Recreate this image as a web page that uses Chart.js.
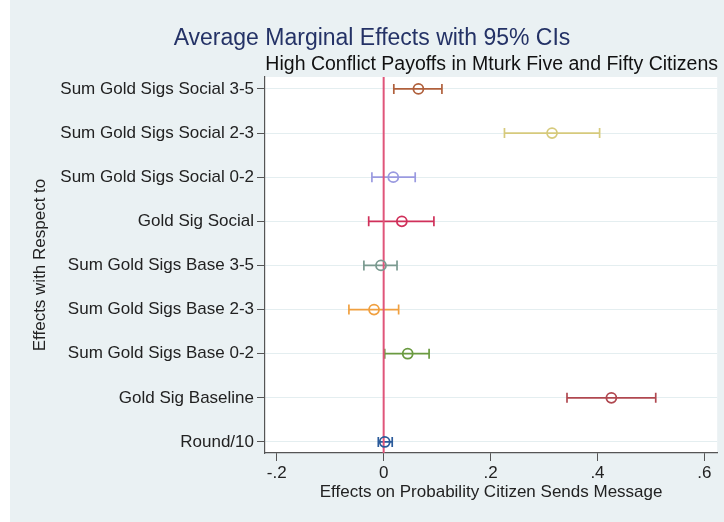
<!DOCTYPE html>
<html>
<head>
<meta charset="utf-8">
<script src="https://cdn.jsdelivr.net/npm/chart.js@4.4.1/dist/chart.umd.min.js"></script>
<style>
  html, body { margin: 0; padding: 0; background: #fff; }
  #wrap { width: 724px; height: 522px; }
</style>
</head>
<body>
<div id="wrap"><canvas id="myChartView" width="724" height="522"></canvas></div>
<script>
// effects, top row first
const rowLabels = ['Sum Gold Sigs Social 3-5', 'Sum Gold Sigs Social 2-3', 'Sum Gold Sigs Social 0-2',
    'Gold Sig Social', 'Sum Gold Sigs Base 3-5', 'Sum Gold Sigs Base 2-3', 'Sum Gold Sigs Base 0-2',
    'Gold Sig Baseline', 'Round/10'];
const estimates = [0.065, 0.315, 0.018, 0.034, -0.005, -0.018, 0.045, 0.426, 0.002];
const lowerCI = [0.019, 0.226, -0.022, -0.028, -0.037, -0.065, 0.002, 0.343, -0.010];
const upperCI = [0.109, 0.404, 0.059, 0.094, 0.025, 0.028, 0.085, 0.509, 0.016];
const xTicks = [-0.2, 0, 0.2, 0.4, 0.6];
const rowColors = ['#b0603c', '#d6ca7c', '#9a9ae0', '#d0305a', '#7a9a90', '#f0a040', '#6a9a40', '#b04850', '#2a5a9a'];

const yMin = -0.27, yMax = 8.25;
const fontFam = "'Liberation Sans', Arial, Helvetica, sans-serif";

const bgPlugin = {
    id: 'bg',
    beforeDraw(chart) {
        const {ctx, chartArea} = chart;
        ctx.save();
        ctx.fillStyle = '#eaf1f3';
        ctx.fillRect(10, 0, chart.width - 10, chart.height);
        ctx.fillStyle = '#ffffff';
        ctx.fillRect(chartArea.left, chartArea.top, chartArea.right - chartArea.left, chartArea.bottom - chartArea.top);
        ctx.restore();
    }
};

const datasets = [];
// zero reference line
datasets.push({
    type: 'line',
    data: [{x: 0, y: yMin}, {x: 0, y: yMax}],
    borderColor: '#e0557a',
    borderWidth: 2,
    pointRadius: 0,
    order: 2
});
// confidence intervals with caps
rowLabels.forEach((lab, i) => {
    datasets.push({
        type: 'line',
        data: [{x: lowerCI[i], y: i}, {x: upperCI[i], y: i}],
        borderColor: rowColors[i],
        borderWidth: 1.7,
        pointStyle: 'line',
        rotation: 90,
        pointRadius: 5,
        pointBorderColor: rowColors[i],
        pointBorderWidth: 1.7,
        order: 3
    });
});
// point estimates
datasets.push({
    type: 'scatter',
    data: estimates.map((v, i) => ({x: v, y: i})),
    pointStyle: 'circle',
    pointRadius: 5,
    pointBorderWidth: 1.8,
    pointBorderColor: rowColors,
    pointBackgroundColor: 'rgba(255,255,255,0)',
    order: 1
});

const fmtTick = v => {
    if (Math.abs(v) < 1e-9) return '0';
    return (v < 0 ? '-' : '') + Math.abs(v).toFixed(1).replace(/^0/, '');
};

myChartView = new Chart(document.getElementById('myChartView'), {
    type: 'scatter',
    data: {datasets: datasets},
    plugins: [bgPlugin],
    options: {
        responsive: false,
        animation: false,
        layout: {padding: {left: 26, right: 6, top: 0, bottom: 0}},
        plugins: {
            legend: {display: false},
            tooltip: {enabled: false},
            title: {
                display: true,
                text: 'Average Marginal Effects with 95% CIs',
                color: '#243266',
                font: {family: fontFam, size: 23, weight: 'normal'},
                padding: {top: 25, bottom: 0}
            },
            subtitle: {
                display: true,
                text: 'High Conflict Payoffs in Mturk Five and Fifty Citizens',
                align: 'end',
                color: '#111',
                font: {family: fontFam, size: 19.5, weight: 'normal'},
                padding: {top: 0, bottom: 1}
            }
        },
        scales: {
            x: {
                type: 'linear',
                min: -0.222,
                max: 0.624,
                afterBuildTicks: s => { s.ticks = xTicks.map(v => ({value: v})); },
                afterFit: s => { s.height = 69; },
                ticks: {
                    callback: v => fmtTick(v),
                    color: '#222',
                    font: {family: fontFam, size: 17},
                    padding: 2,
                    maxRotation: 0
                },
                grid: {drawOnChartArea: false, tickLength: 8, tickColor: '#555', tickWidth: 1},
                border: {color: '#555', width: 1.2},
                title: {
                    display: true,
                    text: 'Effects on Probability Citizen Sends Message',
                    color: '#222',
                    font: {family: fontFam, size: 17},
                    padding: {top: 0, bottom: 19}
                }
            },
            y: {
                type: 'linear',
                min: yMin,
                max: yMax,
                reverse: true,
                afterBuildTicks: s => { s.ticks = rowLabels.map((_, i) => ({value: i})); },
                afterFit: s => { s.width = 239; },
                ticks: {
                    callback: v => rowLabels[v],
                    autoSkip: false,
                    color: '#222',
                    font: {family: fontFam, size: 17},
                    padding: 3
                },
                grid: {color: '#e4eef0', lineWidth: 1, tickLength: 8, tickColor: '#555'},
                border: {color: '#555', width: 1.2},
                title: {
                    display: true,
                    text: 'Effects with Respect to',
                    color: '#222',
                    font: {family: fontFam, size: 17},
                    padding: {top: 4, bottom: 0}
                }
            }
        }
    }
});
</script>
</body>
</html>
